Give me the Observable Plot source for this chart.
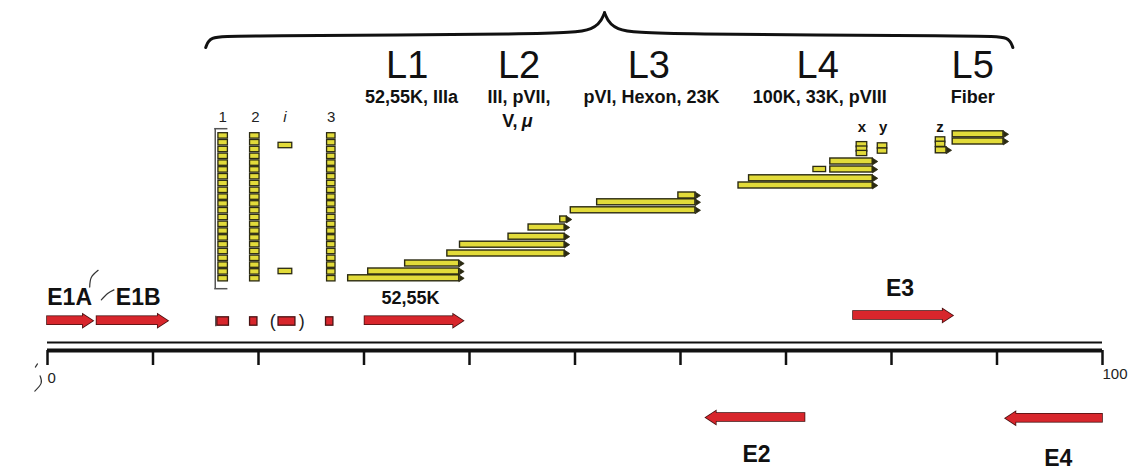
<!DOCTYPE html>
<html><head><meta charset="utf-8">
<script src="https://cdn.jsdelivr.net/npm/d3@7"></script>
<script src="https://cdn.jsdelivr.net/npm/@observablehq/plot@0.6"></script>
<style>html,body{margin:0;padding:0;background:#fff;} #chart svg{display:block}</style>
</head><body><div id="chart"></div>
<script>
// ---------------- data (genome map units 0-100, track levels) ----------------
const lateNames = ["L1", "L2", "L3", "L4", "L5"];
const lateCenters = [34.1, 44.7, 57.0, 73.0, 87.7];
const lateProteins = ["52,55K, IIIa", "III, pVII,", "pVI, Hexon, 23K", "100K, 33K, pVIII", "Fiber"];
const proteinCenters = [34.5, 44.7, 57.25, 73.2, 87.7];

// late mRNA bodies (yellow arrows)
const lateStart = [28.5, 30.4, 33.9, 37.9, 39.1, 43.7, 45.6, 48.6, 49.6, 52.1, 59.8, 65.5, 66.5, 74.2, 74.2, 85.8, 85.8, 84.2];
const lateEnd   = [39.4, 39.4, 39.4, 49.4, 49.4, 49.4, 49.4, 49.6, 61.8, 61.8, 61.8, 78.6, 78.6, 78.6, 78.6, 91.0, 91.0, 85.6];
const lateTrack = [8.9, 9.75, 10.75, 12.0, 13.1, 14.1, 15.25, 16.25, 17.4, 18.4, 19.25, 20.5, 21.4, 22.5, 23.5, 26.9, 26.0, 24.9];

// small accessory exons (x, y, z and L4 extra)
const exonStart = [72.6, 76.7, 76.7, 76.7, 78.7, 78.7, 84.2, 84.2];
const exonEnd   = [73.8, 77.7, 77.7, 77.7, 79.6, 79.6, 85.1, 85.1];
const exonTrack = [22.5, 25.6, 25.05, 24.5, 25.45, 24.8, 26.2, 25.65];
const exonNames = ["x", "y", "z"];
const exonNameX = [77.2, 79.2, 84.6];

// tripartite leader columns
const leaderNames = ["1", "2", "3"];
const leaderStart = [16.2, 19.2, 26.5];
const leaderEnd   = [17.1, 20.1, 27.3];
const leaderTracks = [8.85, 9.7, 10.55, 11.4, 12.25, 13.1, 13.95, 14.8, 15.65, 16.5, 17.35,
                      18.2, 19.05, 19.9, 20.75, 21.6, 22.45, 23.3, 24.15, 25.0, 25.85, 26.7];
const leaderLabelX = [16.6, 19.7, 26.9];
const iLeaderStart = 21.9, iLeaderEnd = 23.2;
const iLeaderTracks = [25.5, 9.75];
const iLabelX = 22.5;

// early-phase leader copies (red boxes)
const earlyBoxStart = [16.1, 19.2, 21.9, 26.4];
const earlyBoxEnd   = [17.2, 19.9, 23.5, 27.1];

// early transcription units (red arrows): start = tail, end = tip
const earlyNames = ["E1A", "E1B", "52,55K", "E3", "E2", "E4"];
const earlyStart = [0, 4.7, 30.1, 76.4, 71.8, 100];
const earlyEnd   = [4.3, 11.4, 39.4, 85.8, 62.4, 90.8];
const earlyTrack = [3.6, 3.6, 3.6, 4.25, -8.5, -8.6];
const earlyLabelX = [2.1, 8.6, 34.4, 80.8, 67.2, 95.8];
const earlyLabelTrack = [6.5, 6.5, 6.4, 7.6, -13.1, -13.6];

// genome scale
const scaleTicks = [0, 10, 20, 30, 40, 50, 60, 70, 80, 90, 100];
const scaleLabels = ["0", "100"];

// brace over the late region
const braceFrom = 15.0, bracePeak = 52.8, braceTo = 91.5;

// ---------------- layout ----------------
const W = 1131, H = 471, ML = 47, MR = 29;
const yDomain = [-15.25, 43.625];
const ux = (W - ML - MR) / 100;
const uy = H / (yDomain[1] - yDomain[0]);

const YELLOW = "#e2db3a", DARK = "#2b2a12", RED = "#d8262c", REDDARK = "#4a1212";

const late = lateStart.map((s, i) => ({start: s, end: lateEnd[i], track: lateTrack[i]}));
const exons = exonStart.map((s, i) => ({start: s, end: exonEnd[i], track: exonTrack[i]}));
const leaders = [];
leaderNames.forEach((n, j) => leaderTracks.forEach(t => leaders.push({start: leaderStart[j], end: leaderEnd[j], track: t})));
iLeaderTracks.forEach(t => leaders.push({start: iLeaderStart, end: iLeaderEnd, track: t}));
const early = earlyNames.map((n, i) => ({name: n, start: earlyStart[i], end: earlyEnd[i], track: earlyTrack[i]}));
const earlyBoxes = earlyBoxStart.map((s, i) => ({start: s, end: earlyBoxEnd[i], track: 3.5}));

// brace as two smooth halves meeting at the peak
const bLine = 39.2, bEnd = 37.75, bTop = 42.1;
const brace = [
  [braceFrom, bEnd], [braceFrom + 0.35, bLine - 0.1], [braceFrom + 2.5, bLine], [bracePeak - 5, bLine + 0.2], [bracePeak - 0.7, bLine + 0.6], [bracePeak, bTop]
].map(([x, t]) => ({x, t, half: "left"})).concat([
  [bracePeak, bTop], [bracePeak + 0.7, bLine + 0.6], [bracePeak + 5, bLine + 0.2], [braceTo - 2.5, bLine], [braceTo - 0.35, bLine - 0.1], [braceTo, bEnd]
].map(([x, t]) => ({x, t, half: "right"})));

// small splice arcs
const arcs = [
  {id: "a", x: 4.8, t: 9.9}, {id: "a", x: 4.15, t: 9.0}, {id: "a", x: 4.0, t: 7.8},
  {id: "b", x: 5.1, t: 6.2}, {id: "b", x: 5.7, t: 7.0}, {id: "b", x: 6.3, t: 7.45},
  {id: "c", x: -0.7, t: -3.3}, {id: "c", x: -0.6, t: -4.2}, {id: "c", x: -1.2, t: -5.2},
  {id: "d", x: -0.95, t: -1.8}, {id: "d", x: -1.15, t: -2.2}
];

const headShape = {draw(ctx, l, r) { ctx.moveTo(-r, 0); ctx.lineTo(0, -l); ctx.lineTo(r, 0); ctx.closePath(); }};
const dir = d => Math.sign(d.end - d.start);

function arrows(rows, {half, headLen, headHalf, fill, stroke, sw}) {
  const k = headLen / ux;
  const bodyEnd = d => d.end - dir(d) * k;
  const rot = d => dir(d) > 0 ? 90 : -90;
  const y1 = d => d.track - half / uy, y2 = d => d.track + half / uy;
  return [
    Plot.rect(rows, {x1: "start", x2: bodyEnd, y1, y2, fill: stroke, stroke, strokeWidth: sw}),
    Plot.vector(rows, {x: bodyEnd, y: "track", rotate: rot, length: headLen, r: headHalf, anchor: "start", shape: headShape, fill: stroke, stroke, strokeWidth: sw, strokeLinejoin: "miter"}),
    Plot.rect(rows, {x1: "start", x2: d => bodyEnd(d) + dir(d) * 0.3, y1, y2, fill}),
    Plot.vector(rows, {x: bodyEnd, y: "track", rotate: rot, length: headLen, r: headHalf, anchor: "start", shape: headShape, fill, stroke: "none"})
  ];
}

const lateBars = (() => {
  const k = 4 / ux;
  const h = 3 / uy;
  return [
    Plot.rect(late, {x1: "start", x2: d => d.end - k, y1: d => d.track - h, y2: d => d.track + h, fill: YELLOW, stroke: DARK, strokeWidth: 1.4}),
    Plot.vector(late, {x: d => d.end - k, y: "track", rotate: 90, length: 5, r: 3.2, anchor: "start", shape: headShape, fill: DARK, stroke: DARK, strokeWidth: 0.8})
  ];
})();

const boxMarks = (rows, fill, stroke, hpx) => Plot.rect(rows, {
  x1: "start", x2: "end", y1: d => d.track - hpx / uy, y2: d => d.track + hpx / uy, fill, stroke, strokeWidth: 1.3
});

const chart = Plot.plot({
  width: W, height: H,
  marginLeft: ML, marginRight: MR, marginTop: 0, marginBottom: 0,
  x: {domain: [0, 100], axis: null},
  y: {domain: yDomain, axis: null},
  style: {fontFamily: "'Liberation Sans', Arial, Helvetica, sans-serif", background: "#fff", color: "#111", overflow: "visible"},
  marks: [
    // brace
    Plot.line(brace, {x: "x", y: "t", z: "half", curve: "basis", stroke: "#111", strokeWidth: 3}),
    // late region labels
    Plot.text(lateNames, {x: (d, i) => lateCenters[i], y: () => 35.5, text: d => d, fontSize: 38, fill: "#111"}),
    Plot.text(lateProteins, {x: (d, i) => proteinCenters[i], y: () => 31.5, text: d => d, fontSize: 18, fontWeight: "bold", fill: "#111"}),
    Plot.text(["V,"], {x: () => 44.55, y: () => 28.5, text: d => d, textAnchor: "end", fontSize: 18, fontWeight: "bold", fill: "#111"}),
    Plot.text(["\u03bc"], {x: () => 44.95, y: () => 28.5, text: d => d, textAnchor: "start", fontSize: 18, fontWeight: "bold", fontStyle: "italic", fill: "#111"}),
    // leader column labels
    Plot.text(leaderNames, {x: (d, i) => leaderLabelX[i], y: () => 29.0, text: d => d, fontSize: 15, fill: "#222"}),
    Plot.text(["i"], {x: () => iLabelX, y: () => 29.0, text: d => d, fontSize: 15, fontStyle: "italic", fill: "#222"}),
    // bracket around leader 1
    Plot.ruleX([15.9], {y1: 7.6, y2: 27.6, stroke: "#555", strokeWidth: 1.5}),
    Plot.ruleY([7.6, 27.6], {x1: 15.85, x2: 17.1, stroke: "#555", strokeWidth: 1.5}),
    // leader boxes and accessory exons
    boxMarks(leaders, YELLOW, DARK, 2.7),
    boxMarks(exons, YELLOW, DARK, 2.6),
    Plot.text(exonNames, {x: (d, i) => exonNameX[i], y: () => 27.8, text: d => d, fontSize: 15, fontWeight: "bold", fill: "#111"}),
    // late mRNAs
    ...lateBars,
    // early leader copies
    Plot.ruleX([15.95], {y1: 2.85, y2: 4.15, stroke: "#444", strokeWidth: 1.3}),
    boxMarks(earlyBoxes, RED, REDDARK, 4.2),
    Plot.text(["(", ")"], {x: (d, i) => [21.35, 24.1][i], y: () => 3.5, text: d => d, fontSize: 18, fill: "#222"}),
    // early transcription units
    ...arrows(early, {half: 4, headLen: 10, headHalf: 6.5, fill: RED, stroke: REDDARK, sw: 1.6}),
    Plot.text(earlyNames, {x: (d, i) => earlyLabelX[i], y: (d, i) => earlyLabelTrack[i], text: d => d,
      fontSize: (d, i) => d === "52,55K" ? 18 : 23, fontWeight: "bold", fill: "#111"}),
    // genome scale
    Plot.ruleY([0.875], {x1: 0, x2: 100, stroke: "#111", strokeWidth: 2}),
    Plot.ruleY([-0.125], {x1: 0, x2: 100, stroke: "#111", strokeWidth: 4}),
    Plot.ruleX(scaleTicks, {y1: -0.125, y2: -2.0, stroke: "#111", strokeWidth: 2.5}),
    Plot.text(scaleLabels, {x: (d, i) => [0, 100][i], y: (d, i) => [-3.6, -3.1][i], text: d => d,
      textAnchor: "start", fontSize: 15, fill: "#222"}),
    // splice arcs
    Plot.line(arcs, {x: "x", y: "t", z: "id", curve: "natural", stroke: "#333", strokeWidth: 1.2})
  ]
});
document.getElementById("chart").appendChild(chart);
</script>
</body></html>
